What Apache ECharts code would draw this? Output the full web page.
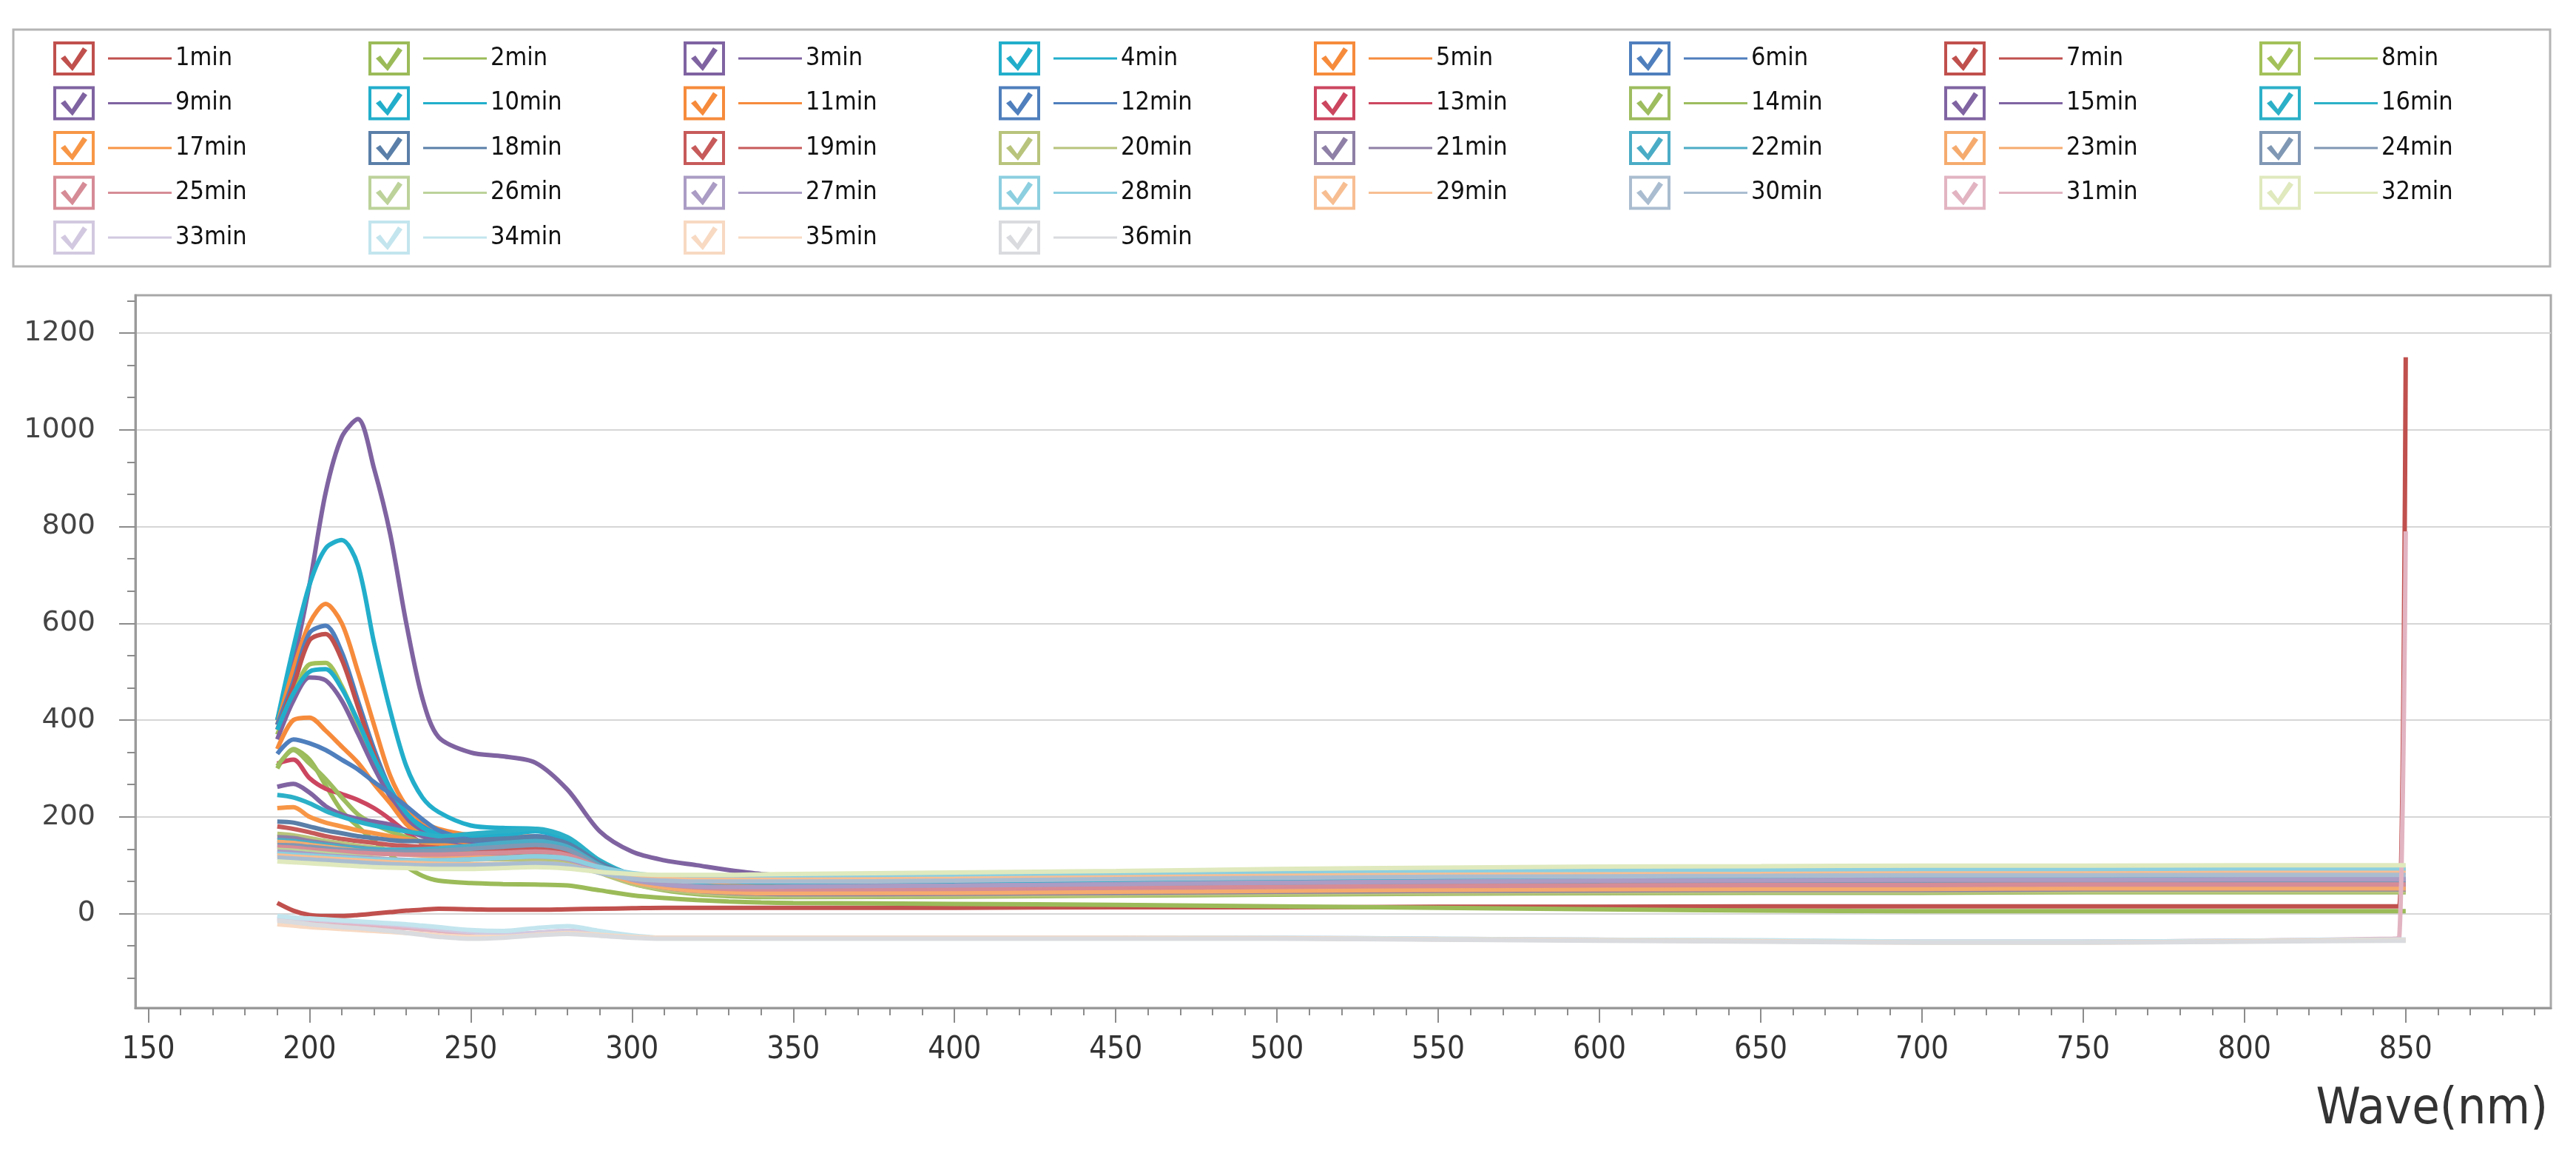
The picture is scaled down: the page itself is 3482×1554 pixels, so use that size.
<!DOCTYPE html>
<html><head><meta charset="utf-8">
<script src="https://cdn.jsdelivr.net/npm/echarts@6/dist/echarts.min.js"></script>
<style>html,body{margin:0;padding:0;background:#fff}#c{width:3482px;height:1554px}</style>
</head><body><div id="c"></div>
<script>
// wavelength nodes (nm)
const wavelengths = [190,195,200,205,210,215,220,225,230,235,240, 250,260,270,280,290,300,310,320,330,340,350, 400,450,500,550,600,650,700,750,800, 846,848,850];

const m1  = [22,6,-3,-5,-5,-3,0,3,6,8,10, 9,8,8,9,10,11,12,12,12,12,12, 12,13,13,14,14,15,15,15,15, 15,15,1150];
const m2  = [300,340,318,265,212,180,150,122,97,78,68, 63,61,60,58,48,38,32,28,25,23,22, 20,18,15,12,9,6,5,5,5, 5,5,5];
const m3  = [400,520,680,870,985,1022,920,785,600,445,365, 333,325,312,256,170,128,110,100,90,82,78, 78,80,83,86,88,89,90,90,91, 91,91,91];
const m4  = [400,550,680,755,772,720,560,420,305,240,210, 182,177,175,150,102,80,70,65,62,60,60, 62,64,66,68,70,71,72,72,72, 72,72,72];
const m5  = [390,505,600,640,600,500,390,285,222,190,175, 162,158,160,142,102,78,66,60,57,55,55, 56,58,60,62,63,64,65,65,65, 65,65,65];
const m6  = [390,480,580,595,540,440,340,258,207,180,165, 155,155,160,148,108,80,66,58,54,52,52, 53,55,57,59,60,61,62,62,62, 62,62,62];
const m7  = [380,470,565,578,525,428,330,250,200,175,160, 150,148,150,136,102,76,62,55,51,50,50, 50,52,54,56,58,59,59,60,60, 60,60,60];
const m8  = [370,450,515,518,470,392,308,242,196,170,156, 146,144,146,132,98,72,58,50,47,46,46, 47,49,51,53,54,55,55,56,56, 56,56,56];
const m9  = [360,440,488,482,440,372,302,242,197,172,158, 146,143,145,132,98,72,58,50,47,45,45, 46,48,50,52,53,54,54,55,55, 55,55,55];
const m10 = [380,455,500,505,465,398,322,258,208,178,165, 160,162,170,152,105,78,64,57,54,52,52, 53,56,59,61,63,64,65,65,66, 66,66,66];
const m11 = [340,400,405,378,345,312,268,228,185,160,148, 140,138,140,128,96,72,58,50,46,44,43, 44,46,48,50,51,52,52,53,53, 53,53,53];
const m12 = [330,360,352,338,318,298,272,248,222,195,172, 152,146,148,138,102,75,60,52,48,46,45, 46,48,50,52,53,54,54,55,55, 55,55,55];
const m13 = [310,318,280,258,247,235,218,195,168,145,134, 128,126,128,120,92,68,54,46,42,40,40, 40,42,44,46,47,48,48,49,49, 49,49,49];
const m14 = [305,338,310,278,240,205,185,170,158,148,140, 128,124,125,116,88,62,48,40,36,34,34, 35,37,39,41,42,43,43,44,44, 44,44,44];
const m15 = [262,268,250,222,205,196,190,184,172,160,150, 136,130,130,124,96,72,56,48,44,42,42, 43,45,47,49,50,51,51,52,52, 52,52,52];
const m16 = [245,240,228,212,200,190,182,176,170,165,160, 165,170,175,158,110,80,65,58,55,54,54, 56,58,61,63,65,66,67,67,68, 68,68,68];
const m17 = [218,220,200,188,180,172,166,160,154,148,143, 135,130,130,122,95,70,55,47,43,41,40, 41,43,45,47,48,49,49,50,50, 50,50,50];
const m18 = [190,188,180,172,166,160,156,152,150,150,150, 152,155,158,145,105,78,63,55,51,49,48, 49,51,53,55,57,58,58,59,59, 59,59,59];
const m19 = [180,175,168,160,154,150,146,142,140,138,136, 134,132,134,126,96,70,55,47,43,41,40, 40,42,44,46,47,48,48,49,49, 49,49,49];
const m20 = [165,162,156,150,145,140,136,132,128,124,120, 115,112,112,106,84,62,50,43,39,37,36, 37,39,41,43,44,45,45,46,46, 46,46,46];
const m21 = [158,156,150,145,140,136,133,130,128,126,125, 124,125,128,120,92,68,54,47,43,41,40, 41,43,45,47,48,49,49,50,50, 50,50,50];
const m22 = [152,150,146,142,138,135,133,132,132,133,135, 140,146,150,138,100,74,60,53,50,48,48, 50,53,56,58,60,61,62,62,63, 63,63,63];
const m23 = [148,146,142,138,134,130,127,124,122,120,118, 116,116,118,112,88,66,54,47,44,42,42, 43,45,47,49,50,51,51,52,52, 52,52,52];
const m24 = [142,141,138,135,132,130,129,128,128,129,130, 134,138,142,132,98,74,62,56,53,52,52, 54,57,60,62,64,65,66,66,67, 67,67,67];
const m25 = [138,136,133,130,128,126,124,123,122,122,122, 124,126,128,121,95,72,60,54,51,50,50, 51,53,55,57,58,59,59,60,60, 60,60,60];
const m26 = [132,130,127,124,121,118,115,112,110,108,106, 103,101,100,96,86,78,74,72,72,73,74, 78,81,84,87,88,89,90,90,91, 91,91,91];
const m27 = [128,126,123,120,118,116,114,112,111,110,110, 112,115,118,112,90,70,60,56,55,55,56, 58,61,64,66,68,69,70,70,71, 71,71,71];
const m28 = [124,122,120,118,116,114,112,111,110,110,110, 112,115,118,114,96,84,78,76,75,75,75, 78,82,85,88,89,90,91,91,92, 92,92,92];
const m29 = [120,118,116,114,112,110,108,106,105,104,103, 102,102,104,100,86,76,72,70,70,70,70, 72,75,78,80,81,82,83,83,84, 84,84,84];
const m30 = [116,114,112,110,108,106,104,102,101,100,100, 100,102,104,100,84,72,68,66,66,66,66, 68,71,74,76,77,78,79,79,80, 80,80,80];
const m31 = [-12,-14,-16,-18,-20,-22,-25,-28,-30,-33,-36, -42,-44,-40,-36,-42,-48,-50,-50,-50,-50,-50, -50,-50,-51,-53,-55,-57,-58,-58,-56, -52,-50,790];
const m32 = [108,106,104,102,100,98,96,95,94,93,92, 92,94,96,93,86,82,80,80,80,81,82, 85,88,92,95,97,98,99,99,100, 100,100,100];
const m33 = [-8,-10,-12,-14,-16,-18,-20,-22,-25,-28,-32, -38,-42,-40,-36,-42,-48,-50,-50,-50,-50,-50, -50,-50,-50,-52,-54,-56,-58,-58,-56, -54,-54,-54];
const m34 = [-5,-8,-10,-12,-14,-16,-18,-20,-22,-25,-28, -34,-36,-30,-26,-36,-45,-50,-50,-50,-50,-50, -50,-50,-50,-52,-54,-55,-58,-58,-56, -54,-54,-54];
const m35 = [-22,-25,-28,-30,-32,-34,-36,-38,-40,-42,-45, -48,-48,-44,-40,-44,-48,-50,-50,-50,-50,-50, -50,-50,-51,-53,-55,-57,-60,-60,-57, -55,-55,-55];
const m36 = [-15,-18,-22,-25,-28,-30,-33,-36,-40,-44,-48, -52,-50,-45,-42,-46,-50,-52,-52,-52,-52,-52, -52,-52,-52,-54,-56,-58,-60,-60,-58, -56,-56,-56];

const seriesNames = ['1min','2min','3min','4min','5min','6min','7min','8min','9min','10min','11min','12min',
  '13min','14min','15min','16min','17min','18min','19min','20min','21min','22min','23min','24min',
  '25min','26min','27min','28min','29min','30min','31min','32min','33min','34min','35min','36min'];
const seriesColors = ['#c0504d','#9bbb59','#7f63a1','#22aecb','#f68b3c','#4f7fbd',
  '#c0504d','#a3c15a','#7f63a1','#22aecb','#f68b3c','#4f7fbd',
  '#cc4660','#9dbd5f','#8064a2','#2cb0c8','#f79646','#5a7fa8',
  '#c75a5a','#b8c47c','#8e80a6','#4bacc6','#f5ab6e','#8098b4',
  '#d68c96','#bcd29a','#aa9cc4','#8ccfe0','#f7be92','#aabdd0',
  '#e2b4c2','#dfe9bd','#d2c9e0','#c3e5ee','#f8d9c2','#d9dbde'];
const seriesValues = [m1,m2,m3,m4,m5,m6,m7,m8,m9,m10,m11,m12,m13,m14,m15,m16,m17,m18,
  m19,m20,m21,m22,m23,m24,m25,m26,m27,m28,m29,m30,m31,m32,m33,m34,m35,m36];

const xLabelValues = [150,200,250,300,350,400,450,500,550,600,650,700,750,800,850];
const xMinorTickValues = [150,160,170,180,190,200,210,220,230,240,250,260,270,280,290,300,310,320,330,340,350,
  360,370,380,390,400,410,420,430,440,450,460,470,480,490,500,510,520,530,540,550,560,570,580,590,600,
  610,620,630,640,650,660,670,680,690,700,710,720,730,740,750,760,770,780,790,800,810,820,830,840,850,
  860,870,880,890];
const yLabelValues = [0,200,400,600,800,1000,1200];
const yMinorTickValues = [-133.3,-66.7,66.7,133.3,266.7,333.3,466.7,533.3,666.7,733.3,866.7,933.3,1066.7,1133.3,1266.7];
const xAxisName = 'Wave(nm)';

// legend icon: check box + check mark + line sample
const ICON = 'path://M0 0H56V46H0Z M4 4V42H52V4Z M10 23L16 19L25 31L40 8L46 12L26 40Z M74 21.5H160V24.5H74Z';

const chart = echarts.init(document.getElementById('c'), null, {renderer:'canvas'});

const series = seriesNames.map((n, i) => ({
  name: n, type: 'line',
  data: wavelengths.map((w, j) => [w, seriesValues[i][j]]),
  symbol: 'none', showSymbol: false, smooth: 0.3,
  lineStyle: {width: 6, color: seriesColors[i]},
  itemStyle: {color: seriesColors[i]},
  emphasis: {disabled: true},
  xAxisIndex: 0, yAxisIndex: 0
}));

const legendFont = '"DejaVu Sans Condensed", "DejaVu Sans", sans-serif';
const legends = [];
for (let c = 0; c < 8; c++) {
  const data = [];
  for (let r = 0; r < 5; r++) { const k = r * 8 + c; if (k < seriesNames.length) data.push(seriesNames[k]); }
  legends.push({
    data, orient: 'vertical', left: 72 + c * 426, top: 56,
    itemWidth: 160, itemHeight: 46, itemGap: 14.5, padding: 0,
    icon: ICON, selectedMode: false, itemStyle: {borderWidth: 0},
    textStyle: {fontSize: 34, fontFamily: legendFont, color: '#111'}
  });
}

const tickLine = {color: '#8c8c8c', width: 2};

chart.setOption({
  animation: false,
  backgroundColor: '#fff',
  color: seriesColors,
  graphic: [{type: 'rect', shape: {x: 18, y: 40, width: 3429, height: 320},
    style: {fill: 'none', stroke: '#b4b4b4', lineWidth: 3}, z: -1, silent: true}],
  legend: legends,
  grid: {left: 183, right: 34, top: 399, bottom: 192, show: true, borderColor: '#a8a8a8', borderWidth: 3, outerBoundsMode: 'none', containLabel: false},
  xAxis: [{
    type: 'value', min: 146, max: 895, position: 'bottom',
    axisLine: {show: true, onZero: false, lineStyle: {color: '#9a9a9a', width: 3}},
    axisTick: {show: true, customValues: xLabelValues, length: 20, lineStyle: tickLine},
    axisLabel: {customValues: xLabelValues, margin: 36, fontSize: 42, fontFamily: legendFont, color: '#333', formatter: v => String(v)},
    splitLine: {show: false},
    name: xAxisName, nameLocation: 'end', nameGap: -4,
    nameTextStyle: {fontSize: 68, fontFamily: legendFont, color: '#333', align: 'right', verticalAlign: 'top', padding: [104, 0, 0, 0]}
  }, {
    type: 'value', min: 146, max: 895, position: 'bottom',
    axisLine: {show: false, onZero: false},
    axisTick: {show: true, customValues: xMinorTickValues, length: 10, lineStyle: tickLine},
    axisLabel: {show: false}, splitLine: {show: false}
  }],
  yAxis: [{
    type: 'value', min: -195, max: 1278, position: 'left',
    axisLine: {show: true, onZero: false, lineStyle: {color: '#9a9a9a', width: 3}},
    axisTick: {show: true, customValues: yLabelValues, length: 22, lineStyle: tickLine},
    axisLabel: {customValues: yLabelValues, margin: 54, fontSize: 38, fontFamily: 'DejaVu Sans', color: '#444', formatter: v => String(v)},
    splitLine: {show: true, lineStyle: {color: '#d6d6d6', width: 2}}
  }, {
    type: 'value', min: -195, max: 1278, position: 'left',
    axisLine: {show: false, onZero: false},
    axisTick: {show: true, customValues: yMinorTickValues, length: 11, lineStyle: tickLine},
    axisLabel: {show: false}, splitLine: {show: false}
  }],
  series
});
</script>
</body></html>
